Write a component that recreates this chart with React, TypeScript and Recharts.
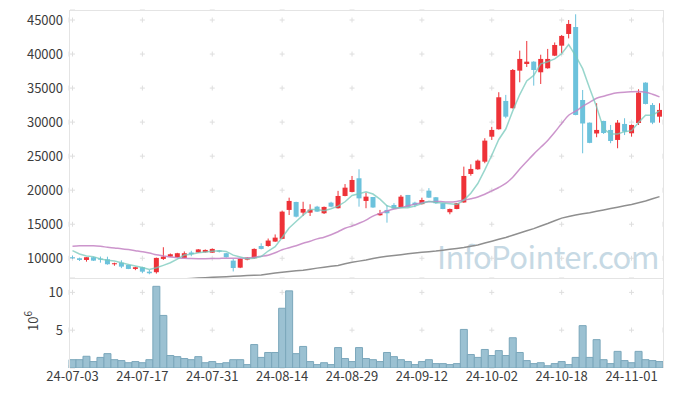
import { Bar, CartesianGrid, ComposedChart, Line, XAxis, YAxis } from "recharts";

// 일봉 85개 (24-07-03 ~ 24-11-07)
const dates = [
  "24-07-03", "24-07-04", "24-07-05", "24-07-08", "24-07-09", "24-07-10", "24-07-11", "24-07-12", "24-07-15", "24-07-16",
  "24-07-17", "24-07-18", "24-07-19", "24-07-22", "24-07-23", "24-07-24", "24-07-25", "24-07-26", "24-07-29", "24-07-30",
  "24-07-31", "24-08-01", "24-08-02", "24-08-05", "24-08-06", "24-08-07", "24-08-08", "24-08-09", "24-08-12", "24-08-13",
  "24-08-14", "24-08-16", "24-08-19", "24-08-20", "24-08-21", "24-08-22", "24-08-23", "24-08-26", "24-08-27", "24-08-28",
  "24-08-29", "24-08-30", "24-09-02", "24-09-03", "24-09-04", "24-09-05", "24-09-06", "24-09-09", "24-09-10", "24-09-11",
  "24-09-12", "24-09-13", "24-09-19", "24-09-20", "24-09-23", "24-09-24", "24-09-25", "24-09-26", "24-09-27", "24-09-30",
  "24-10-02", "24-10-04", "24-10-07", "24-10-08", "24-10-10", "24-10-11", "24-10-14", "24-10-15", "24-10-16", "24-10-17",
  "24-10-18", "24-10-21", "24-10-22", "24-10-23", "24-10-24", "24-10-25", "24-10-28", "24-10-29", "24-10-30", "24-10-31",
  "24-11-01", "24-11-04", "24-11-05", "24-11-06", "24-11-07",
];

const opens = [
  10150, 10000, 9750, 10150, 9950, 9850, 9120, 9350, 9020, 8430,
  8680, 8030, 7950, 9900, 10240, 10150, 10050, 10850, 10850, 10880,
  10820, 11120, 10740, 9650, 8620, 9800, 10000, 11800, 11800, 12450,
  12850, 17100, 18270, 16700, 16700, 17580, 16610, 18170, 17350, 19150,
  19740, 21750, 18420, 19000, 16320, 17100, 17830, 17490, 19300, 18170,
  17950, 19930, 18960, 18080, 16760, 17240, 18200, 22380, 23070, 24190,
  27860, 28950, 33110, 32040, 37560, 38540, 38880, 37320, 37910, 39760,
  41230, 42950, 43970, 33250, 29920, 28330, 30170, 28850, 27380, 29730,
  28360, 29870, 35800, 32520, 30800,
];
const highs = [
  10400, 10090, 10150, 10200, 10250, 10230, 9350, 9700, 9050, 8750,
  8750, 8280, 10100, 11620, 10700, 10800, 11000, 11100, 11350, 11300,
  11450, 11200, 10800, 9900, 10000, 10150, 11450, 12200, 12900, 13500,
  17000, 18900, 18300, 18300, 17930, 17700, 17600, 18300, 19900, 20900,
  22090, 23070, 19640, 19000, 17100, 17830, 18100, 19300, 19300, 18300,
  18900, 20300, 19000, 18100, 17300, 18100, 23460, 23800, 24500, 27630,
  29300, 34390, 34000, 37800, 40500, 41920, 38950, 39900, 40750, 41700,
  42800, 45000, 45840, 34720, 29950, 32770, 30200, 29580, 30300, 30570,
  29650, 34830, 35850, 32800, 32770,
];
const lows = [
  9900, 9600, 9500, 9600, 9350, 9050, 8900, 8550, 8400, 8250,
  7800, 7650, 7750, 9750, 10200, 10100, 10000, 10300, 10800, 10850,
  10800, 10850, 10100, 8060, 8550, 9700, 9950, 11300, 11700, 12400,
  12800, 16350, 16000, 16210, 16210, 16800, 16500, 17500, 17300, 19100,
  19700, 17580, 17350, 17400, 16250, 15230, 17250, 17400, 17500, 17500,
  17900, 18850, 18000, 17200, 16460, 17200, 18150, 22130, 23000, 23960,
  27380, 28900, 30570, 32000, 35850, 38100, 35360, 35600, 37850, 39700,
  40160, 42300, 31000, 25420, 26900, 27780, 28260, 26900, 26160, 28100,
  27860, 29580, 32600, 29700, 29920,
];
const closes = [
  10120, 9750, 10150, 9650, 9850, 9120, 9270, 8770, 8430, 8680,
  8030, 7800, 10050, 10240, 10590, 10740, 10740, 10600, 11300, 11220,
  11370, 10970, 10150, 8570, 9900, 10090, 11370, 11370, 12600, 13030,
  16850, 18420, 16110, 17240, 17140, 16850, 17540, 17580, 19150, 20370,
  21500, 18800, 19050, 17460, 16610, 16610, 17290, 19050, 17540, 17830,
  18560, 18900, 18080, 17240, 17240, 18080, 22090, 23120, 24340, 27280,
  28850, 33650, 30800, 37660, 39280, 38880, 37660, 39280, 39280, 41330,
  42660, 44420, 31050, 29800, 26950, 28850, 28400, 27230, 29920, 28600,
  29580, 34330, 32670, 29920, 31790,
];
const ma5 = [
  11120, 10630, 10340, 10240, 9904, 9704, 9608, 9332, 9088, 8854,
  8636, 8342, 8598, 8960, 9342, 9884, 10472, 10582, 10794, 10920,
  11046, 11092, 11002, 10456, 10192, 9936, 10016, 10260, 11066, 11692,
  13044, 14454, 15402, 16330, 17152, 17152, 16976, 17270, 17652, 18298,
  19228, 19480, 19774, 19436, 18684, 17706, 17404, 17404, 17420, 17664,
  18054, 18376, 18182, 18122, 18004, 17908, 18546, 19554, 20974, 22982,
  25136, 27448, 28984, 31648, 34048, 36054, 36856, 38552, 38876, 39286,
  40042, 41394, 39748, 37852, 34976, 32214, 29010, 28246, 28270, 28600,
  28746, 29932, 31020, 31020, 31658,
];
const ma20 = [
  11750, 11820, 11850, 11830, 11750, 11620, 11500, 11400, 11270, 11120,
  10970, 10780, 10500, 10350, 10200, 10090, 10000, 9950, 9940, 9940,
  9950, 9970, 10000, 10000, 10000, 10050, 10150, 10300, 10450, 10800,
  11250, 11550, 11850, 12200, 12500, 12850, 13100, 13450, 13900, 14400,
  14750, 15150, 15600, 16200, 16600, 16950, 17250, 17450, 17700, 17950,
  18150, 18300, 18350, 18300, 18250, 18350, 18550, 18750, 19000, 19400,
  19900, 20400, 21000, 21900, 23100, 24200, 25300, 26300, 27300, 28500,
  29800, 31000, 31600, 32300, 32900, 33500, 33800, 34100, 34300, 34400,
  34450, 34480, 34400, 34100, 33700,
];
const ma120 = [
  6010, 6070, 6130, 6190, 6250, 6310, 6370, 6430, 6490, 6550,
  6610, 6670, 6730, 6790, 6850, 6910, 6970, 7030, 7090, 7150,
  7200, 7250, 7300, 7350, 7400, 7450, 7500, 7550, 7680, 7820,
  7950, 8050, 8150, 8250, 8400, 8550, 8680, 8820, 8950, 9180,
  9400, 9580, 9750, 9950, 10150, 10280, 10400, 10520, 10650, 10770,
  10880, 10970, 11060, 11190, 11320, 11450, 11580, 11760, 11950, 12230,
  12500, 12780, 13050, 13380, 13700, 14030, 14350, 14730, 15100, 15500,
  15900, 16130, 16350, 16530, 16700, 16900, 17100, 17300, 17500, 17700,
  17900, 18150, 18400, 18730, 19050,
];
// 거래량 (단위 10^6)
const volumes = [
  1.1, 1.1, 1.55, 0.85, 1.4, 1.9, 1.1, 0.98, 0.7, 0.85,
  0.7, 1.1, 10.8, 6.95, 1.65, 1.5, 1.25, 1.1, 1.5, 0.7,
  0.85, 0.58, 0.7, 1.1, 1.1, 0.45, 3.1, 1.4, 2.05, 2.05,
  7.9, 10.2, 1.9, 2.85, 0.85, 0.45, 0.7, 0.45, 2.7, 1.25,
  0.85, 2.7, 1.25, 1.1, 0.85, 2.05, 1.5, 1.1, 0.85, 0.45,
  0.85, 1.1, 0.58, 0.58, 0.45, 0.58, 5.1, 1.78, 1.4, 2.45,
  1.65, 2.3, 1.65, 4.0, 2.05, 0.98, 0.58, 0.7, 0.3, 0.58,
  0.85, 0.45, 1.4, 5.6, 1.4, 3.75, 1.1, 0.58, 2.2, 0.98,
  0.7, 2.2, 1.1, 0.98, 0.85,
];
const priceTicks = [10000, 15000, 20000, 25000, 30000, 35000, 40000, 45000];
const volTicks = [5, 10];

const C = {
  up: "#ee3238", down: "#6cc2dc", ma5: "#76c8bb", ma20: "#c383c3", ma120: "#8f8f8f",
  vol: "#9bc1d2", volLine: "#7ba7bb", grid: "#dedede", frame: "#e4e4e4", text: "#3c3c3c",
  mark: "#c6d9e4",
};
const FONT = "'Noto Sans CJK KR', 'Noto Sans', sans-serif";

const rows = dates.map((date, i) => ({
  date, open: opens[i], high: highs[i], low: lows[i], close: closes[i],
  ma5: ma5[i], ma20: ma20[i], ma120: ma120[i], vol: volumes[i],
}));
const tickDates = dates.filter((_, i) => i % 10 === 0);

// 캔들: Bar 범위 [저가, 고가]를 받아 몸통 위치는 같은 비율로 환산
function Candle(props: any) {
  const { x, y, width, height, payload } = props;
  if (x == null || !payload) return null;
  const { open, close, high, low } = payload;
  const color = close >= open ? C.up : C.down;
  const k = high === low ? 0 : height / (high - low);
  const top = y + (high - Math.max(open, close)) * k;
  const bot = y + (high - Math.min(open, close)) * k;
  const cx = x + width / 2;
  return (
    <g>
      <line x1={cx} x2={cx} y1={y} y2={y + height} stroke={color} strokeWidth={1} />
      <rect x={x} y={top} width={width} height={Math.max(1, bot - top)} fill={color} />
    </g>
  );
}

const tick = { fontSize: 13, fill: C.text, fontFamily: FONT };

export default function App() {
  return (
    <div style={{ position: "absolute", left: 0, top: 0, width: 673, height: 396, background: "#fff" }}>
      <div style={{
        position: "absolute", left: 437, top: 233, fontSize: 31, color: C.mark,
        fontFamily: FONT, letterSpacing: -0.6, whiteSpace: "nowrap",
      }}>InfoPointer.com</div>

      <div style={{ position: "absolute", left: 0, top: 0 }}>
        <ComposedChart width={673} height={278} data={rows} barCategoryGap={1}
          margin={{ top: 10, right: 10, bottom: 0, left: 0 }}>
          <CartesianGrid horizontal={false} stroke={C.grid} strokeDasharray="5 29.04" strokeDashoffset={26.54} />
          <CartesianGrid vertical={false} stroke={C.grid} strokeDasharray="5 64.88" strokeDashoffset={68.88} />
          <XAxis dataKey="date" hide ticks={tickDates} interval={0} />
          <YAxis width={69} domain={[7100, 46470]} allowDataOverflow ticks={priceTicks}
            tickLine={false} axisLine={false} tickSize={0} tickMargin={6} tick={tick} />
          <Bar dataKey={(d: any) => [d.low, d.high]} shape={<Candle />} isAnimationActive={false} />
          <Line dataKey="ma120" stroke={C.ma120} strokeWidth={1.5} dot={false} isAnimationActive={false} />
          <Line dataKey="ma20" type="monotone" stroke={C.ma20} strokeWidth={1.5} strokeOpacity={0.85}
            dot={false} isAnimationActive={false} />
          <Line dataKey="ma5" stroke={C.ma5} strokeWidth={1.5} strokeOpacity={0.75}
            dot={false} isAnimationActive={false} />
        </ComposedChart>
      </div>

      <div style={{ position: "absolute", left: 0, top: 278 }}>
        <ComposedChart width={673} height={118} data={rows} barCategoryGap={0}
          margin={{ top: 0, right: 10, bottom: 0, left: 0 }}>
          <CartesianGrid horizontal={false} stroke={C.grid} strokeDasharray="5 32.7" strokeDashoffset={25.9} />
          <CartesianGrid vertical={false} stroke={C.grid} strokeDasharray="5 64.88" strokeDashoffset={68.88} />
          <XAxis dataKey="date" ticks={tickDates} interval={0} height={28}
            tickLine={false} axisLine={false} tickSize={0} tickMargin={4} tick={tick} />
          <YAxis width={69} domain={[0, 11.9]} allowDataOverflow ticks={volTicks}
            tickLine={false} axisLine={false} tickSize={0} tickMargin={6} tick={tick} />
          <Bar dataKey="vol" fill={C.vol} stroke={C.volLine} strokeWidth={1} isAnimationActive={false} />
        </ComposedChart>
      </div>

      <div style={{
        position: "absolute", left: 69, top: 10, width: 595, height: 269, boxSizing: "border-box",
        border: `1px solid ${C.frame}`, pointerEvents: "none",
      }} />
      <div style={{
        position: "absolute", left: 69, top: 278, width: 595, height: 90, boxSizing: "border-box",
        borderLeft: `1px solid ${C.frame}`, borderRight: `1px solid ${C.frame}`, pointerEvents: "none",
      }} />
      <div style={{
        position: "absolute", left: 18, top: 312, width: 30, height: 18, lineHeight: "18px",
        textAlign: "center", transform: "rotate(-90deg)", fontSize: 13, color: C.text, fontFamily: FONT,
      }}>10<sup style={{ fontSize: 10, verticalAlign: "6px", lineHeight: 0 }}>6</sup></div>
    </div>
  );
}
